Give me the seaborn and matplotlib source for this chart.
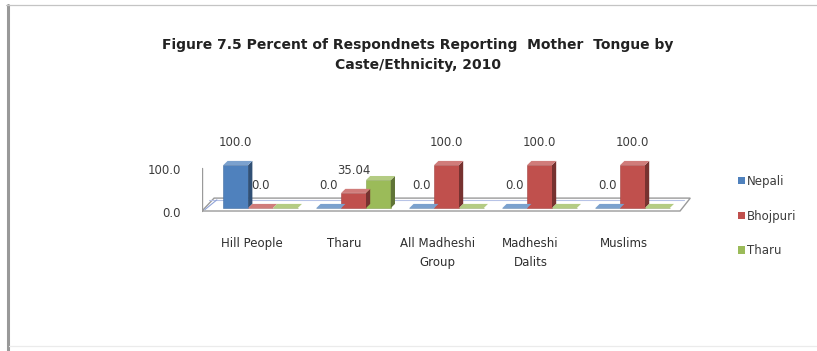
import numpy as np
import pandas as pd
import matplotlib
matplotlib.use("Agg")
import matplotlib.pyplot as plt
import matplotlib.transforms as mtransforms
from matplotlib.patches import Polygon, Patch
from matplotlib.lines import Line2D
import seaborn as sns

# ---- data ----
categories = ["Hill People", "Tharu", "All Madheshi\nGroup", "Madheshi\nDalits", "Muslims"]
languages = ["Nepali", "Bhojpuri", "Tharu"]
nepali = [100.0, 0.0, 0.0, 0.0, 0.0]
bhojpuri = [0.0, 35.04, 100.0, 100.0, 100.0]
tharu = [0.0, 64.96, 0.0, 0.0, 0.0]
labelled_series = ["Nepali", "Bhojpuri"]
title_lines = ["Figure 7.5 Percent of Respondnets Reporting  Mother  Tongue by",
               "Caste/Ethnicity, 2010"]

colors = {"Nepali": "#4F81BD", "Bhojpuri": "#C0504D", "Tharu": "#9BBB59"}

df = pd.DataFrame({
    "Caste": categories * 3,
    "Language": [languages[0]] * 5 + [languages[1]] * 5 + [languages[2]] * 5,
    "Percent": nepali + bhojpuri + tharu,
})

sns.set_theme(style="white")
plt.rcParams["font.family"] = ["DejaVu Sans"]

W, H = 817, 351
fig = plt.figure(figsize=(W / 100, H / 100), dpi=100)
fig.patch.set_facecolor("white")

# axes placement in pixel terms
ax_left, ax_right = 202, 694
ax_top, ax_bottom = 150, 215
ax = fig.add_axes([ax_left / W, 1 - ax_bottom / H,
                   (ax_right - ax_left) / W, (ax_bottom - ax_top) / H])
ax.set_facecolor("none")

sns.barplot(data=df, x="Caste", y="Percent", hue="Language",
            hue_order=languages, order=categories,
            palette=colors, width=0.8, saturation=1, legend=False,
            linewidth=0, ax=ax, zorder=3)
bars = list(ax.patches)

ax.set_xlim(-0.63, 4.66)
ax.set_ylim(-16.3, 134.9)

# depth offsets for the pseudo-3D look (data units)
dx, dy = 0.045, 9.5

def shade(c, f):
    r, g, b = matplotlib.colors.to_rgb(c)
    return (r * f, g * f, b * f)

def tint(c, f):
    r, g, b = matplotlib.colors.to_rgb(c)
    return (r + (1 - r) * f, g + (1 - g) * f, b + (1 - b) * f)

# floor and left wall
floor = Polygon([(-0.63, -7), (-0.50, 23), (4.62, 23), (4.51, -7)], closed=True,
                facecolor="white", edgecolor="#9a9a9a", linewidth=1.0, zorder=1)
ax.add_patch(floor)
ax.plot([-0.55, 4.55], [19, 19], color="#b7c3e6", lw=0.8, zorder=1.5)
ax.plot([-0.60, -0.47], [-4, 19], color="#8fa3d8", lw=0.8, zorder=1.5)
ax.plot([-0.63, -0.63], [-7, 93], color="#9a9a9a", lw=1.0, zorder=1)

# side and top faces for each bar
for i, bar in enumerate(bars):
    lang = languages[i // len(categories)]
    c = colors[lang]
    x0 = bar.get_x()
    w = bar.get_width()
    h = bar.get_height()
    side = Polygon([(x0 + w, 0), (x0 + w + dx, dy), (x0 + w + dx, h + dy), (x0 + w, h)],
                   closed=True, facecolor=shade(c, 0.62), edgecolor="none", zorder=3)
    top = Polygon([(x0, h), (x0 + w, h), (x0 + w + dx, h + dy), (x0 + dx, h + dy)],
                  closed=True, facecolor=tint(c, 0.25), edgecolor="none", zorder=3)
    ax.add_patch(side)
    ax.add_patch(top)
    bar.set_edgecolor(shade(c, 0.85))
    bar.set_linewidth(0.4)

# value labels for the first two series
for i, bar in enumerate(bars):
    lang = languages[i // len(categories)]
    if lang not in labelled_series:
        continue
    val = bar.get_height()
    txt = f"{val:.2f}" if abs(val * 10 - round(val * 10)) > 1e-9 else f"{val:.1f}"
    ax.annotate(txt, (bar.get_x() + bar.get_width() / 2, val),
                xytext=(0, 16), textcoords="offset points",
                ha="center", va="center", fontsize=8.5, color="#3c3c3c", zorder=5)

# axes cosmetics
for s in ax.spines.values():
    s.set_visible(False)
ax.set_xlabel("")
ax.set_ylabel("")
ax.set_yticks([0, 100])
ax.set_yticklabels(["0.0", "100.0"], fontsize=8.5, color="#3c3c3c")
ax.tick_params(axis="y", length=0, pad=15)
ax.tick_params(axis="x", length=0, pad=16)
yshift = mtransforms.ScaledTranslation(0, -4 / 100, fig.dpi_scale_trans)
for lab in ax.get_yticklabels():
    lab.set_transform(lab.get_transform() + yshift)
ax.set_xticks(range(len(categories)))
ax.set_xticklabels(categories, fontsize=8.5, color="#2e2e2e", linespacing=1.6, va="top")
shift = mtransforms.ScaledTranslation(-9 / 100, 0, fig.dpi_scale_trans)
for lab in ax.get_xticklabels():
    lab.set_transform(lab.get_transform() + shift)

# legend
handles = [Patch(facecolor=colors[l], edgecolor="none") for l in languages]
fig.legend(handles, languages, loc="upper left",
           bbox_to_anchor=(733 / W, 1 - 170 / H), frameon=False,
           fontsize=8.5, labelcolor="#3c3c3c", handlelength=0.6, handleheight=0.6,
           handletextpad=0.2, labelspacing=1.85, borderaxespad=0)

# title
fig.text(418 / W, 1 - 45 / H, title_lines[0], ha="center", va="center",
         fontsize=10, fontweight="bold", color="#222222")
fig.text(418 / W, 1 - 65 / H, title_lines[1], ha="center", va="center",
         fontsize=10, fontweight="bold", color="#222222")

# page frame
fig.add_artist(Line2D([7.5 / W, 7.5 / W], [0, 1 - 5 / H], transform=fig.transFigure,
                      color="#999999", lw=2.2))
fig.add_artist(Line2D([6 / W, 1], [1 - 5 / H, 1 - 5 / H], transform=fig.transFigure,
                      color="#c4c4c4", lw=0.9))
fig.add_artist(Line2D([9 / W, 1], [1 - 346 / H, 1 - 346 / H], transform=fig.transFigure,
                      color="#ebebeb", lw=0.9))

fig.savefig("out.png", dpi=100, facecolor="white")
